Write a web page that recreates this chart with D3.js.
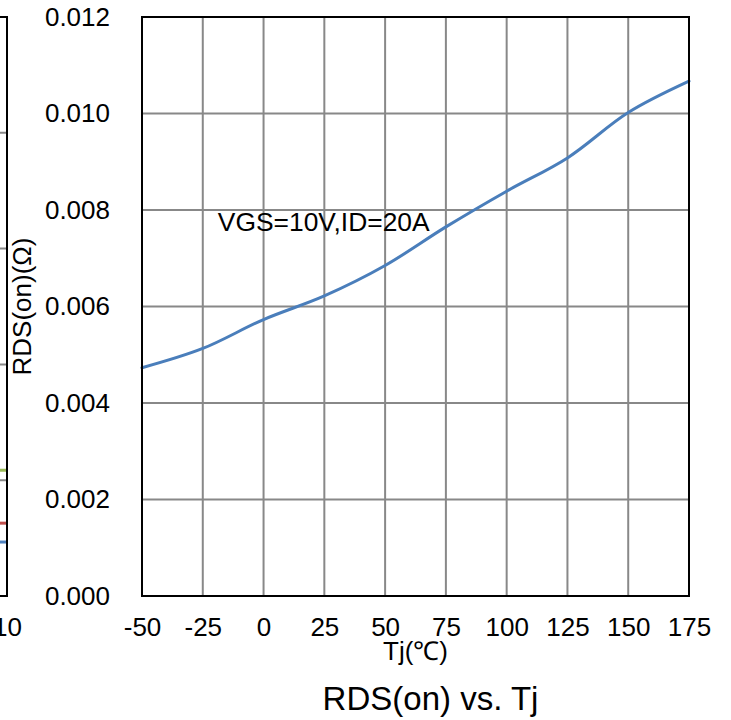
<!DOCTYPE html>
<html>
<head>
<meta charset="utf-8">
<script src="https://cdn.jsdelivr.net/npm/d3@7"></script>
<style>
  body { margin: 0; background: #fff; }
  svg { display: block; font-family: "Liberation Sans", Arial, sans-serif; }
</style>
</head>
<body>
<script>
// main chart: RDS(on) vs junction temperature
const tempC = [-50, -25, 0, 25, 50, 75, 100, 125, 150, 175];
const rdsOn = [0.00473, 0.00513, 0.00573, 0.00622, 0.00685, 0.00765, 0.00839, 0.00908, 0.01002, 0.01067];
const xTicks = [-50, -25, 0, 25, 50, 75, 100, 125, 150, 175];
const yTicks = [0, 0.002, 0.004, 0.006, 0.008, 0.010, 0.012];
const note = { text: "VGS=10V,ID=20A", t: -18.8, v: 0.00757 };

// edge of the neighbouring chart (only its right end is visible)
const leftXTicks = [10];
const leftYTicks = [0, 1, 2, 3, 4, 5];
const leftSeries = [
  { color: "#9bbb59", x: [9.7, 10], y: [1.086, 1.086] },
  { color: "#c0504d", x: [9.7, 10], y: [0.629, 0.629] },
  { color: "#4f81bd", x: [9.7, 10], y: [0.466, 0.466] }
];

const width = 731, height = 720;
const gridColor = "#888888";

const svg = d3.select("body").append("svg")
    .attr("width", width)
    .attr("height", height);

svg.append("rect").attr("width", width).attr("height", height).attr("fill", "#fff");

// ---- neighbour chart stub ----
const lx = d3.scaleLinear().domain([0, 10]).range([-540, 7]);
const ly = d3.scaleLinear().domain([0, 5]).range([596, 17]);

svg.append("g")
  .selectAll("line")
  .data(leftYTicks.slice(1, -1))
  .join("line")
    .attr("x1", lx(0)).attr("x2", lx(10))
    .attr("y1", d => ly(d)).attr("y2", d => ly(d))
    .attr("stroke", gridColor).attr("stroke-width", 2);

svg.append("g")
  .selectAll("path")
  .data(leftSeries)
  .join("path")
    .attr("fill", "none")
    .attr("stroke", d => d.color)
    .attr("stroke-width", 3)
    .attr("d", d => d3.line()(d.x.map((v, i) => [lx(v), ly(d.y[i])])));

svg.append("rect")
    .attr("x", lx(0)).attr("y", ly(5))
    .attr("width", lx(10) - lx(0)).attr("height", ly(0) - ly(5))
    .attr("fill", "none").attr("stroke", "#000").attr("stroke-width", 2);

svg.append("g")
    .attr("transform", `translate(0,${ly(0)})`)
    .call(d3.axisBottom(lx).tickValues(leftXTicks).tickFormat(d => String(d)).tickSize(0).tickPadding(22))
    .call(g => g.select(".domain").remove())
    .call(g => g.selectAll("text").attr("font-size", 26).attr("fill", "#000").attr("font-family", null));

// ---- main chart ----
const x = d3.scaleLinear().domain([-50, 175]).range([142, 689]);
const y = d3.scaleLinear().domain([0, 0.012]).range([596, 17]);

const grid = svg.append("g")
    .attr("stroke", gridColor)
    .attr("stroke-width", 2);

grid.selectAll(".vg")
  .data(xTicks.slice(1, -1))
  .join("line")
    .attr("class", "vg")
    .attr("x1", d => x(d)).attr("x2", d => x(d))
    .attr("y1", y(0)).attr("y2", y(0.012));

grid.selectAll(".hg")
  .data(yTicks.slice(1, -1))
  .join("line")
    .attr("class", "hg")
    .attr("x1", x(-50)).attr("x2", x(175))
    .attr("y1", d => y(d)).attr("y2", d => y(d));

const line = d3.line()
    .x((d, i) => x(tempC[i]))
    .y(d => y(d))
    .curve(d3.curveCatmullRom.alpha(0.5));

svg.append("path")
    .datum(rdsOn)
    .attr("fill", "none")
    .attr("stroke", "#4a7ebb")
    .attr("stroke-width", 3)
    .attr("stroke-linecap", "round")
    .attr("d", line);

svg.append("rect")
    .attr("x", x(-50)).attr("y", y(0.012))
    .attr("width", x(175) - x(-50)).attr("height", y(0) - y(0.012))
    .attr("fill", "none").attr("stroke", "#000").attr("stroke-width", 2);

svg.append("g")
    .attr("transform", `translate(${x(-50)},0)`)
    .call(d3.axisLeft(y).tickValues(yTicks).tickFormat(d3.format(".3f")).tickSize(0).tickPadding(32))
    .call(g => g.select(".domain").remove())
    .call(g => g.selectAll("text").attr("font-size", 26).attr("fill", "#000").attr("font-family", null));

// plain hyphen for negatives, as in the original
svg.append("g")
    .attr("transform", `translate(0,${y(0)})`)
    .call(d3.axisBottom(x).tickValues(xTicks).tickFormat(d => String(d)).tickSize(0).tickPadding(22))
    .call(g => g.select(".domain").remove())
    .call(g => g.selectAll("text").attr("font-size", 26).attr("fill", "#000").attr("font-family", null));

svg.append("text")
    .attr("x", x(note.t))
    .attr("y", y(note.v))
    .attr("font-size", 26.4)
    .text(note.text);

svg.append("text")
    .attr("transform", `translate(31,${(y(0) + y(0.012)) / 2}) rotate(-90)`)
    .attr("text-anchor", "middle")
    .attr("font-size", 26)
    .text("RDS(on)(Ω)");

svg.append("text")
    .attr("x", (x(-50) + x(175)) / 2)
    .attr("y", 660)
    .attr("text-anchor", "middle")
    .attr("font-size", 26)
    .text("Tj(℃)");

svg.append("text")
    .attr("x", (x(-50) + x(175)) / 2 + 15)
    .attr("y", 710)
    .attr("text-anchor", "middle")
    .attr("font-size", 33)
    .text("RDS(on) vs. Tj");
</script>
</body>
</html>
